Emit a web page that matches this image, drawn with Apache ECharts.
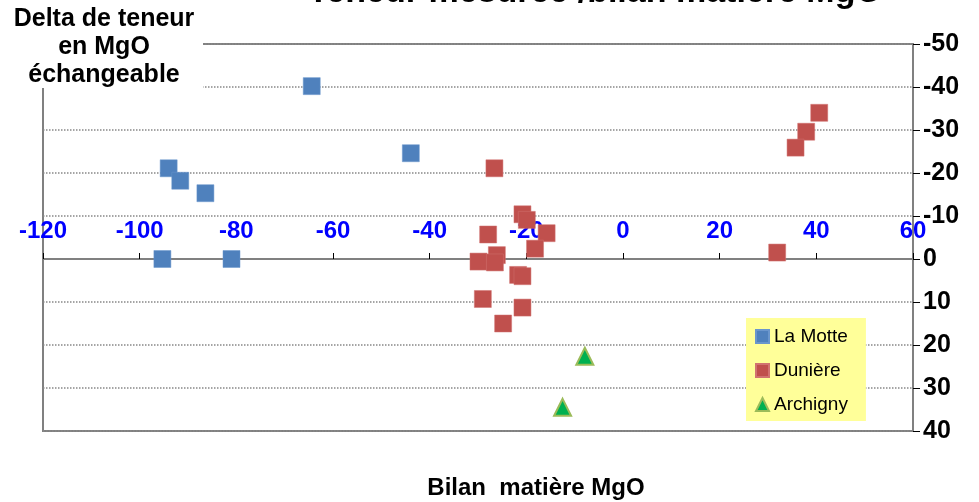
<!DOCTYPE html>
<html>
<head>
<meta charset="utf-8">
<script src="https://cdn.jsdelivr.net/npm/echarts@6/dist/echarts.min.js"></script>
<style>
  html, body { margin: 0; padding: 0; background: #fff; }
  #chart { width: 979px; height: 502px; }
</style>
</head>
<body>
<div id="chart"></div>
<script>
// valeurs : [bilan matière, delta de teneur]
const laMotte = [
  [-64.4, -40.2], [-43.9, -24.6], [-94.0, -21.1], [-91.6, -18.2],
  [-86.4, -15.3], [-95.3, 0], [-81.0, 0]
];
const duniere = [
  [40.6, -34.0], [37.9, -29.6], [35.7, -25.9], [31.9, -1.5],
  [-26.6, -21.1], [-20.8, -10.4], [-19.9, -9.1], [-15.8, -6.0],
  [-27.9, -5.7], [-18.2, -2.4], [-26.1, -0.9], [-29.9, 0.6],
  [-26.5, 0.8], [-21.7, 3.7], [-20.8, 4.0], [-29.0, 9.3],
  [-20.8, 11.3], [-24.8, 15.0]
];
const archigny = [[-7.9, 22.6], [-12.5, 34.5]];

const seriesNames = ['La Motte', 'Dunière', 'Archigny'];
const xMin = -120, xMax = 60, xStep = 20;
const yMin = -50, yMax = 40, yStep = 10;

const FONT = '"Liberation Sans", Arial, sans-serif';

const gridTop = 44, gridBottom = 71, H = 502;
// l'axe x croise l'axe y en 0 : décalage de l'axe depuis le haut de la grille
const plotH = H - gridTop - gridBottom;
const xAxisOffset = -(0 - yMin) / (yMax - yMin) * plotH;

const chart = echarts.init(document.getElementById('chart'));

const option = {
  animation: false,
  textStyle: { fontFamily: FONT },
  grid: {
    left: 43, right: 66, top: gridTop, bottom: gridBottom,
    show: true, borderColor: '#808080', borderWidth: 2
  },
  legend: {
    orient: 'vertical',
    left: 746, top: 318,
    backgroundColor: '#ffff99',
    padding: [9, 18, 7, 9],
    itemGap: 15,
    itemWidth: 13, itemHeight: 13,
    textStyle: { fontSize: 19, color: '#000' },
    data: [
      { name: seriesNames[0], icon: 'rect' },
      { name: seriesNames[1], icon: 'rect' },
      { name: seriesNames[2], icon: 'triangle' }
    ]
  },
  xAxis: {
    type: 'value',
    min: xMin, max: xMax, interval: xStep,
    position: 'top',
    offset: xAxisOffset,
    axisLine: { onZero: false, lineStyle: { color: '#808080', width: 2 } },
    axisTick: { show: true, length: 6, lineStyle: { color: '#000' } },
    axisLabel: { color: '#0000ff', fontSize: 24, fontWeight: 'bold', margin: 16 },
    splitLine: { show: false }
  },
  yAxis: {
    type: 'value',
    position: 'right',
    inverse: true,
    min: yMin, max: yMax, interval: yStep,
    axisLine: { show: true, onZero: false, lineStyle: { color: '#808080', width: 2 } },
    axisTick: { show: true, inside: false, length: 7, lineStyle: { color: '#000' } },
    axisLabel: { color: '#000', fontSize: 25, fontWeight: 'bold', margin: 10 },
    splitLine: { show: true, lineStyle: { color: '#888', type: 'dotted', width: 1.5 } }
  },
  graphic: [
    {
      type: 'text', z: 101,
      style: {
        text: 'Teneur mesurée /bilan matière MgO',
        x: 595, y: 10,
        textAlign: 'center', textVerticalAlign: 'bottom',
        font: 'bold 34px ' + FONT,
        fill: '#000'
      }
    },
    {
      type: 'rect', left: 0, top: 0, z: 100,
      shape: { width: 203, height: 88 },
      style: { fill: '#fff' }
    },
    {
      type: 'text', z: 101,
      style: {
        text: 'Delta de teneur\nen MgO\néchangeable',
        x: 104, y: 5,
        textAlign: 'center',
        font: 'bold 25px ' + FONT,
        lineHeight: 28,
        fill: '#000'
      }
    },
    {
      type: 'text', z: 101,
      style: {
        text: 'Bilan  matière MgO',
        x: 536, y: 476,
        textAlign: 'center',
        font: 'bold 24px ' + FONT,
        fill: '#000'
      }
    }
  ],
  series: [
    {
      name: seriesNames[0], type: 'scatter', data: laMotte,
      symbol: 'rect', symbolSize: 17,
      itemStyle: { color: '#4f81bd', borderColor: '#6a96cc', borderWidth: 0.5, opacity: 1 }
    },
    {
      name: seriesNames[1], type: 'scatter', data: duniere,
      symbol: 'rect', symbolSize: 17,
      itemStyle: { color: '#c0504d', borderColor: '#d17370', borderWidth: 0.5, opacity: 1 }
    },
    {
      name: seriesNames[2], type: 'scatter', data: archigny,
      symbol: 'triangle', symbolSize: 17,
      itemStyle: { color: '#00b050', borderColor: '#9bbb59', borderWidth: 2, opacity: 1 }
    }
  ]
};

chart.setOption(option);
</script>
</body>
</html>
